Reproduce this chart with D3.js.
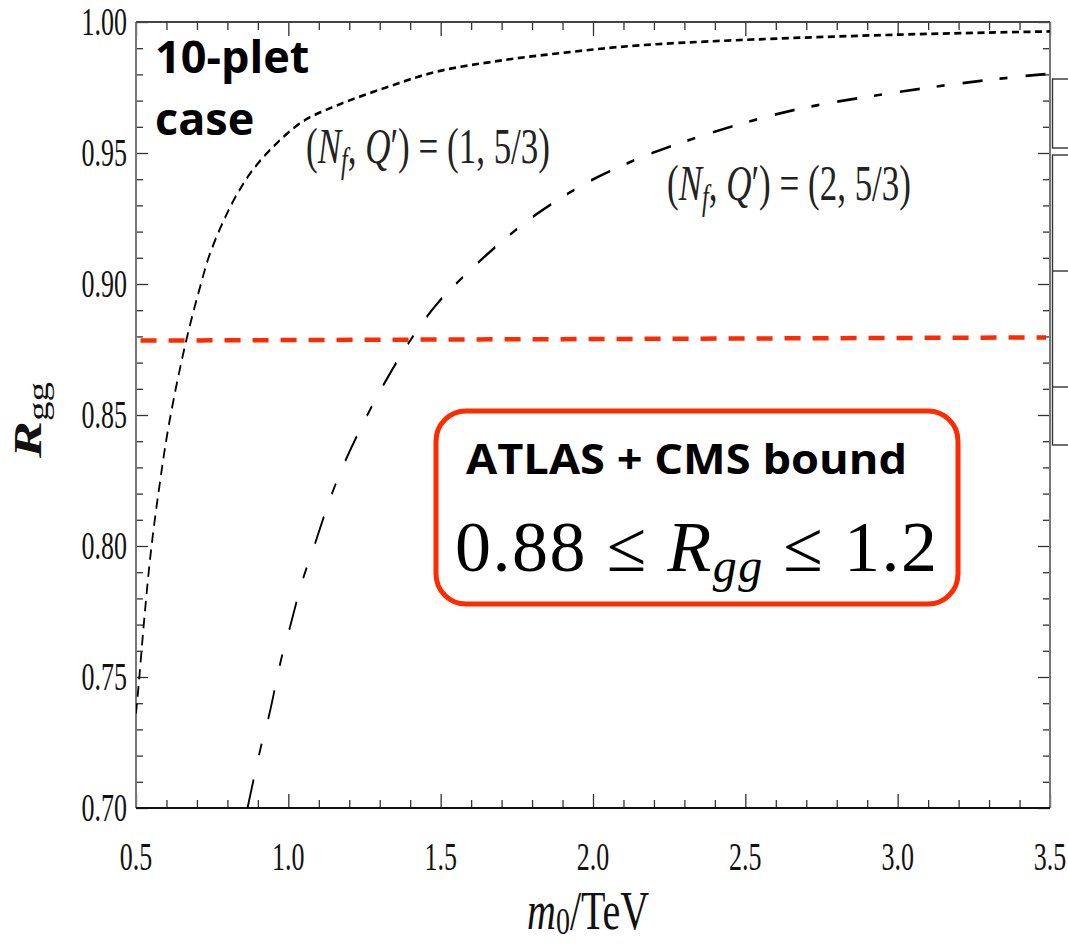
<!DOCTYPE html>
<html><head><meta charset="utf-8">
<script src="https://cdn.jsdelivr.net/npm/d3@7"></script>
<style>body{margin:0;background:#fff;} svg{display:block}</style>
</head><body>
<svg id="c" width="1068" height="945"></svg>
<script>
// ---------------- data ----------------
const curve1M = [0.500,0.511,0.527,0.549,0.577,0.609,0.664,0.713,0.741,0.785,0.828,0.883,0.960,1.047,1.156,1.321,1.485,1.704,1.922,2.141,2.461,3.008,3.500];
const curve1R = [0.736,0.750,0.772,0.798,0.823,0.847,0.878,0.900,0.911,0.9235,0.9335,0.9435,0.9535,0.962,0.968,0.975,0.981,0.9854,0.9885,0.991,0.993,0.9952,0.9964];
const curve2M = [0.866,0.910,0.938,0.976,1.003,1.047,1.085,1.140,1.189,1.255,1.310,1.392,1.485,1.594,1.704,1.813,1.977,2.141,2.242,2.461,2.679,2.898,3.117,3.336,3.500];
const curve2R = [0.700,0.7234,0.736,0.7565,0.768,0.787,0.800,0.819,0.833,0.849,0.861,0.877,0.892,0.905,0.9165,0.9265,0.9385,0.9475,0.952,0.9603,0.9669,0.9714,0.9752,0.9784,0.9803];
const boundM = [0.515, 3.487];
const boundR = [0.8784, 0.8796];
const xMajor = [0.5,1.0,1.5,2.0,2.5,3.0,3.5];
const xLabels = ["0.5","1.0","1.5","2.0","2.5","3.0","3.5"];
const yMajor = [0.70,0.75,0.80,0.85,0.90,0.95,1.00];
const yLabels = ["0.70","0.75","0.80","0.85","0.90","0.95","1.00"];
const xMinor = d3.range(5,36).map(d=>d/10).filter(v=>Math.abs(v*2-Math.round(v*2))>1e-6);
const yMinor = d3.range(70,101).map(d=>d/100).filter(v=>Math.round(v*100)%5!==0);

// ---------------- layout ----------------
const L=136, R=1050, T=22, B=808, S=1.5;
const svg = d3.select("#c");
const x = d3.scaleLinear().domain([0.5,3.5]).range([L,R]);
const y = d3.scaleLinear().domain([0.70,1.00]).range([B,T]);
const yi = d3.scaleLinear().domain([0.70,1.00]).range([(B-T)/S,0]); // unstretched inner
const serif = "'Liberation Serif','DejaVu Serif',serif";
const sans = "'Open Sans','Noto Sans',sans-serif";
const RED = "#ff2a00";

// side fragments (cropped table at right edge)
const side = svg.append("g").attr("fill","none").attr("stroke","#333").attr("stroke-width",1.4);
side.append("rect").attr("x",1052.5).attr("y",79).attr("width",40).attr("height",69);
side.append("rect").attr("x",1052.5).attr("y",155).attr("width",40).attr("height",290);
side.append("line").attr("x1",1052.5).attr("x2",1068).attr("y1",271).attr("y2",271);
side.append("line").attr("x1",1052.5).attr("x2",1068).attr("y1",387).attr("y2",387);

// ticks
function ticks(axisFn, values, size, tr){
  svg.append("g").attr("transform",tr)
    .call(axisFn.tickValues(values).tickSize(size).tickSizeOuter(0).tickFormat(""))
    .call(g=>g.select(".domain").remove())
    .call(g=>g.selectAll("line").attr("stroke","#333").attr("stroke-width",1.3));
}
ticks(d3.axisBottom(x), xMinor, -8, `translate(0,${B})`);
ticks(d3.axisBottom(x), xMajor, -14, `translate(0,${B})`);
ticks(d3.axisTop(x), xMinor, -8, `translate(0,${T})`);
ticks(d3.axisTop(x), xMajor, -14, `translate(0,${T})`);
ticks(d3.axisLeft(y), yMinor, -7, `translate(${L},0)`);
ticks(d3.axisLeft(y), yMajor, -12, `translate(${L},0)`);
ticks(d3.axisRight(y), yMinor, -7, `translate(${R},0)`);
ticks(d3.axisRight(y), yMajor, -12, `translate(${R},0)`);

// frame
svg.append("line").attr("x1",L).attr("x2",L).attr("y1",T).attr("y2",B).attr("stroke","#777").attr("stroke-width",2);
svg.append("line").attr("x1",R).attr("x2",R).attr("y1",T).attr("y2",B).attr("stroke","#777").attr("stroke-width",2);
svg.append("line").attr("x1",L).attr("x2",R).attr("y1",T).attr("y2",T).attr("stroke","#444").attr("stroke-width",2);
svg.append("line").attr("x1",L).attr("x2",R).attr("y1",B).attr("y2",B).attr("stroke","#111").attr("stroke-width",2);

// tick labels (stretched vertically like the original)
svg.append("g").selectAll("text").data(xMajor).join("text")
  .attr("transform",d=>`translate(${x(d)},857) scale(1,${S})`)
  .attr("dy","0.34em").attr("text-anchor","middle")
  .attr("font-family",serif).attr("font-size",26).attr("fill","#111")
  .text((d,i)=>xLabels[i]);
svg.append("g").selectAll("text").data(yMajor).join("text")
  .attr("transform",d=>`translate(127,${y(d)}) scale(1,${S})`)
  .attr("dy","0.34em").attr("text-anchor","end")
  .attr("font-family",serif).attr("font-size",26).attr("fill","#111")
  .text((d,i)=>yLabels[i]);

// axis titles
const xt = svg.append("text").attr("transform",`translate(527,929) scale(1,1.35)`)
  .attr("font-family",serif).attr("font-size",40).attr("fill","#111");
xt.append("tspan").attr("font-style","italic").text("m");
xt.append("tspan").attr("font-size",28).attr("dy",4).text("0");
xt.append("tspan").attr("dy",-4).text("/TeV");

const yt = svg.append("text").attr("transform",`translate(41,420) rotate(-90) scale(1.35,1)`)
  .attr("font-family",serif).attr("font-size",41).attr("fill","#111").attr("text-anchor","middle");
yt.append("tspan").attr("font-style","italic").attr("font-weight","bold").text("R");
yt.append("tspan").attr("font-size",29).attr("dy",7).text("gg");

// curves (drawn in an unstretched frame and stretched vertically)
const defs = svg.append("defs");
defs.append("clipPath").attr("id","clip").append("rect")
  .attr("x",L).attr("y",0).attr("width",R-L).attr("height",(B-T)/S);
const cg = svg.append("g").attr("transform",`translate(0,${T}) scale(1,${S})`).attr("clip-path","url(#clip)");
const line = d3.line().x(d=>x(d[0])).y(d=>yi(d[1])).curve(d3.curveCatmullRom.alpha(0.5));
cg.append("path").datum(curve1M.map((m,i)=>[m,curve1R[i]]))
  .attr("d",line).attr("fill","none").attr("stroke","#000").attr("stroke-width",1.8)
  .attr("stroke-dasharray","7,4.5");
cg.append("path").datum(curve2M.map((m,i)=>[m,curve2R[i]]))
  .attr("d",line).attr("fill","none").attr("stroke","#000").attr("stroke-width",1.8)
  .attr("stroke-dasharray","20,17,8,18");

// red bound line
svg.append("path").datum(boundM.map((m,i)=>[m,boundR[i]]))
  .attr("d",d3.line().x(d=>x(d[0])).y(d=>y(d[1])))
  .attr("fill","none").attr("stroke",RED).attr("stroke-width",4.5).attr("stroke-dasharray","16,12");

// curve labels
function curveLabel(tx,ty,n){
  const t = svg.append("text").attr("transform",`translate(${tx},${ty}) scale(1,1.45)`)
    .attr("font-family",serif).attr("font-size",35).attr("fill","#222");
  t.append("tspan").text("(");
  t.append("tspan").attr("font-style","italic").text("N");
  t.append("tspan").attr("font-style","italic").attr("font-size",24).attr("dy",6).text("f");
  t.append("tspan").attr("dy",-6).text(", ");
  t.append("tspan").attr("font-style","italic").text("Q");
  t.append("tspan").text("′) = (" + n + ", 5/3)");
  return t;
}
curveLabel(306,163,1);
curveLabel(667,200,2);

// big labels
svg.append("text").attr("x",155).attr("y",73).attr("font-family",sans).attr("font-weight",700)
  .attr("font-size",45).attr("fill","#000").text("10-plet");
svg.append("text").attr("x",155).attr("y",135).attr("font-family",sans).attr("font-weight",700)
  .attr("font-size",45).attr("fill","#000").text("case");

// bound box
svg.append("rect").attr("x",436).attr("y",411).attr("width",522).attr("height",193).attr("rx",30)
  .attr("fill","#fff").attr("stroke",RED).attr("stroke-width",5);
svg.append("text").attr("x",466).attr("y",474).attr("font-family",sans).attr("font-weight",700)
  .attr("font-size",41).attr("fill","#000")
  .attr("textLength",441).attr("lengthAdjust","spacingAndGlyphs").text("ATLAS + CMS bound");
const mt = svg.append("text").attr("x",455).attr("y",571).attr("font-family",serif)
  .attr("font-size",72).attr("fill","#000")
  .attr("textLength",482).attr("lengthAdjust","spacing");
mt.append("tspan").text("0.88 ≤ ");
mt.append("tspan").attr("font-style","italic").text("R");
mt.append("tspan").attr("font-style","italic").attr("font-size",48).attr("dy",11).text("gg");
mt.append("tspan").attr("dy",-11).text(" ≤ 1.2");
</script>
</body></html>
